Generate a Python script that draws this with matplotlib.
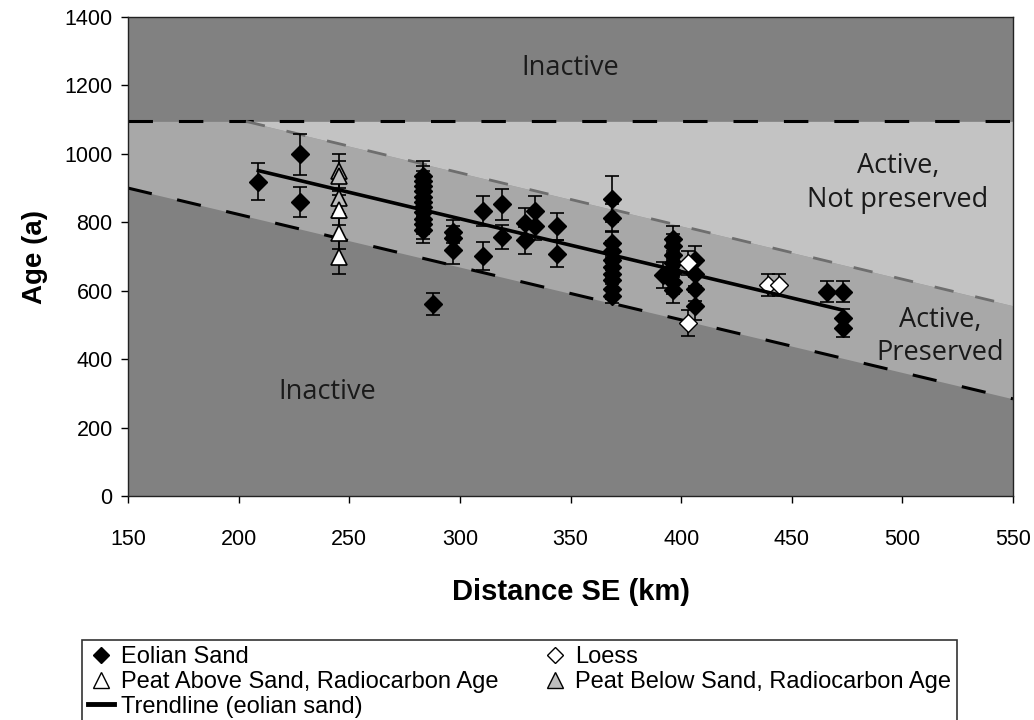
import numpy as np
import matplotlib
matplotlib.use("Agg")
import matplotlib.pyplot as plt
from matplotlib.lines import Line2D

# ---------------- data ----------------
# Eolian sand (distance km, age a, error a)
eolian_x = [208.9, 227.7, 227.7,
            283.5, 283.5, 283.5, 283.5, 283.5, 283.5, 283.5, 283.5, 283.5, 283.5, 283.5,
            287.7, 296.7, 296.7, 296.7, 310.3, 310.3, 318.9, 318.9, 329.4, 329.4,
            334.0, 334.0, 343.8, 343.8,
            368.6, 368.6, 368.6, 368.6, 368.6, 368.6, 368.6, 368.6, 368.6, 368.6,
            392.0, 396.5, 396.5, 396.5, 396.5, 396.5, 396.5, 396.5,
            406.3, 406.3, 406.3, 406.3,
            466.0, 473.3, 473.3, 473.3]
eolian_y = [919, 999, 859,
            935, 920, 905, 890, 875, 860, 845, 830, 810, 795, 778,
            561, 773, 753, 719, 833, 702, 853, 756, 797, 747,
            833, 789, 788, 708,
            867, 812, 740, 715, 690, 670, 650, 630, 605, 585,
            646, 750, 730, 705, 680, 655, 625, 602,
            690, 650, 605, 555,
            597, 597, 520, 490]
eolian_err = [53, 60, 45,
              45, 45, 45, 45, 45, 45, 45, 45, 45, 45, 40,
              33, 35, 35, 40, 44, 40, 45, 35, 45, 40,
              45, 40, 40, 40,
              67, 40, 35, 30, 30, 30, 30, 30, 28, 22,
              37, 40, 35, 35, 35, 35, 35, 37,
              40, 35, 35, 40,
              30, 30, 28, 25]

loess_x = [403.3, 403.3, 439.4, 444.4]
loess_y = [680, 505, 617, 617]
loess_err = [35, 38, 33, 33]

peat_above_x = [245.4, 245.4, 245.4]
peat_above_y = [836, 768, 700]
peat_above_err = [45, 45, 50]

peat_below_x = [245.4, 245.4, 245.4]
peat_below_y = [950, 935, 870]
peat_below_err = [50, 45, 45]

trend_x = [208.9, 472.6]
trend_y = [951, 544]

# zone boundaries
upper_limit_age = 1095
lower_bound_x = [150, 550]
lower_bound_y = [900, 284]
upper_bound_x = [203.3, 550]
upper_bound_y = [1095, 556]

x_ticks = [150, 200, 250, 300, 350, 400, 450, 500, 550]
y_ticks = [0, 200, 400, 600, 800, 1000, 1200, 1400]

# ---------------- figure ----------------
plt.rcParams['font.family'] = ['Liberation Sans', 'DejaVu Sans']
fig = plt.figure(figsize=(10.34, 7.20), dpi=100)
ax = fig.add_axes([0.1238, 0.3111, 0.8559, 0.6653])

dark = '#818181'
mid = '#a8a8a8'
light = '#c3c3c3'

ax.set_xlim(150, 550)
ax.set_ylim(0, 1400)
ax.set_facecolor(dark)

grid = np.linspace(150, 550, 801)
low = np.interp(grid, lower_bound_x, lower_bound_y)
up = np.interp(grid, upper_bound_x, upper_bound_y, left=upper_limit_age)
up = np.minimum(up, upper_limit_age)
ax.fill_between(grid, low, up, color=mid, lw=0, zorder=1)
ax.fill_between(grid, up, upper_limit_age, color=light, lw=0, zorder=1)

ax.axhline(upper_limit_age, color='black', lw=2.2, dashes=(8, 8.5), zorder=2)
ax.plot(lower_bound_x, lower_bound_y, color='black', lw=2.2, dashes=(8, 8.5), zorder=2)
ax.plot(upper_bound_x, upper_bound_y, color='#6e6e6e', lw=2.0, dashes=(7, 8), zorder=2)

# error bars
ek = dict(fmt='none', ecolor='black', elinewidth=1.2, capsize=5, capthick=1.2, zorder=3)
ax.errorbar(eolian_x, eolian_y, yerr=eolian_err, **ek)
ax.errorbar(loess_x, loess_y, yerr=loess_err, **ek)
ax.errorbar(peat_above_x, peat_above_y, yerr=peat_above_err, **ek)
ax.errorbar(peat_below_x, peat_below_y, yerr=peat_below_err, **ek)

ax.plot(eolian_x, eolian_y, 'D', ms=9.5, mfc='black', mec='black', mew=1, ls='none', zorder=4)
ax.plot(loess_x, loess_y, 'D', ms=9.5, mfc='white', mec='black', mew=1, ls='none', zorder=4)
ax.plot(peat_below_x, peat_below_y, '^', ms=12, mfc='#bdbdbd', mec='black', mew=1.2, ls='none', zorder=4)
ax.plot(peat_above_x, peat_above_y, '^', ms=12, mfc='white', mec='black', mew=1.2, ls='none', zorder=4)
ax.plot(trend_x, trend_y, color='black', lw=2.6, zorder=5)

# zone labels
zfont = dict(family=['Open Sans', 'DejaVu Sans'], fontsize=19.5, color='#1a1a1a', ha='center', va='center',
             multialignment='center', linespacing=1.25, zorder=6)
ax.text(350, 1250, 'Inactive', **zfont)
ax.text(498, 915, 'Active,\nNot preserved', **zfont)
ax.text(517, 467, 'Active,\nPreserved', **zfont)
ax.text(240, 304, 'Inactive', **zfont)

# axes styling
ax.set_xticks(x_ticks)
ax.set_yticks(y_ticks)
ax.tick_params(axis='x', direction='out', length=5, width=1, labelsize=15.5, pad=19)
ax.tick_params(axis='y', direction='out', length=5, width=1, labelsize=15.5, pad=6)
for s in ax.spines.values():
    s.set_linewidth(1.0)
    s.set_color('#222222')

ax.set_xlabel('Distance SE (km)', fontsize=21, fontweight='bold', labelpad=20)
ax.set_ylabel('Age (a)', fontsize=20, fontweight='bold', labelpad=12)

# legend
handles = [Line2D([], [], marker='D', ls='none', ms=8, mfc='black', mec='black'),
           Line2D([], [], marker='^', ls='none', ms=11, mfc='white', mec='black', mew=1),
           Line2D([], [], color='black', lw=3.5),
           Line2D([], [], marker='D', ls='none', ms=8, mfc='white', mec='black', mew=1),
           Line2D([], [], marker='^', ls='none', ms=11, mfc='#bdbdbd', mec='black', mew=1)]
labels = ['Eolian Sand', 'Peat Above Sand, Radiocarbon Age', 'Trendline (eolian sand)',
          'Loess', 'Peat Below Sand, Radiocarbon Age']
leg = fig.legend(handles, labels, ncol=2, loc='upper left', bbox_to_anchor=(0.079, 0.111),
                 frameon=True, fancybox=False, edgecolor='black', fontsize=17,
                 handlelength=1.1, handletextpad=0.3, columnspacing=1.85, labelspacing=0.12,
                 borderpad=0.25, borderaxespad=0)
leg.get_frame().set_linewidth(1.2)

fig.savefig('out.png', dpi=100)
